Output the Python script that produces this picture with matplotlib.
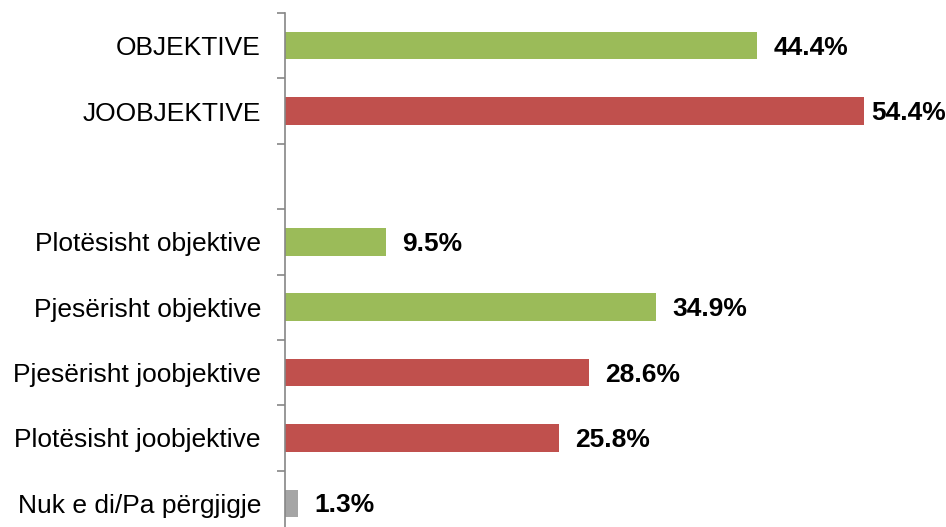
import matplotlib
matplotlib.use("Agg")
import matplotlib.pyplot as plt

plt.rcParams['font.family'] = ['Liberation Sans', 'DejaVu Sans']

categories = ["OBJEKTIVE", "JOOBJEKTIVE", "",
              "Plotësisht objektive", "Pjesërisht objektive",
              "Pjesërisht joobjektive", "Plotësisht joobjektive",
              "Nuk e di/Pa përgjigje"]
values = [44.4, 54.4, None, 9.5, 34.9, 28.6, 25.8, 1.3]
colors = ["#9BBB59", "#C0504D", None, "#9BBB59", "#9BBB59",
          "#C0504D", "#C0504D", "#A5A5A5"]

W, H = 946, 527
fig = plt.figure(figsize=(W / 100, H / 100), dpi=100)
# axes box in pixels: left 284.5, top 13, bottom 536 (below image edge)
left, top, bottom, right = 284.5, 13, 536, 284.5 + 639
ax = fig.add_axes([left / W, (H - bottom) / H, (right - left) / W, (bottom - top) / H])

ypos = list(range(len(categories)))
for y, v, c in zip(ypos, values, colors):
    if v is None:
        continue
    ax.barh(y, v, height=0.42, color=c)
    off = 7 if v > 50 else 16
    ax.annotate(f"{v}%", (v, y), xytext=(off, -2), textcoords="offset pixels",
                va="center", ha="left", fontsize=19, fontweight="bold")

ax.set_xlim(0, 60)
ax.set_ylim(len(categories) - 0.5, -0.5)
ax.set_yticks(ypos)
ax.set_yticklabels(categories, fontsize=19)
ax.set_yticks([i - 0.5 for i in range(len(categories) + 1)], minor=True)
ax.tick_params(axis="y", which="major", length=0, pad=17)
ax.tick_params(axis="y", which="minor", length=5.5, width=1.2, color="#868686", direction="out")
ax.set_xticks([])
for s in ["top", "right", "bottom"]:
    ax.spines[s].set_visible(False)
ax.spines["left"].set_color("#868686")
ax.spines["left"].set_linewidth(1.2)

fig.savefig("out.png", dpi=100)
